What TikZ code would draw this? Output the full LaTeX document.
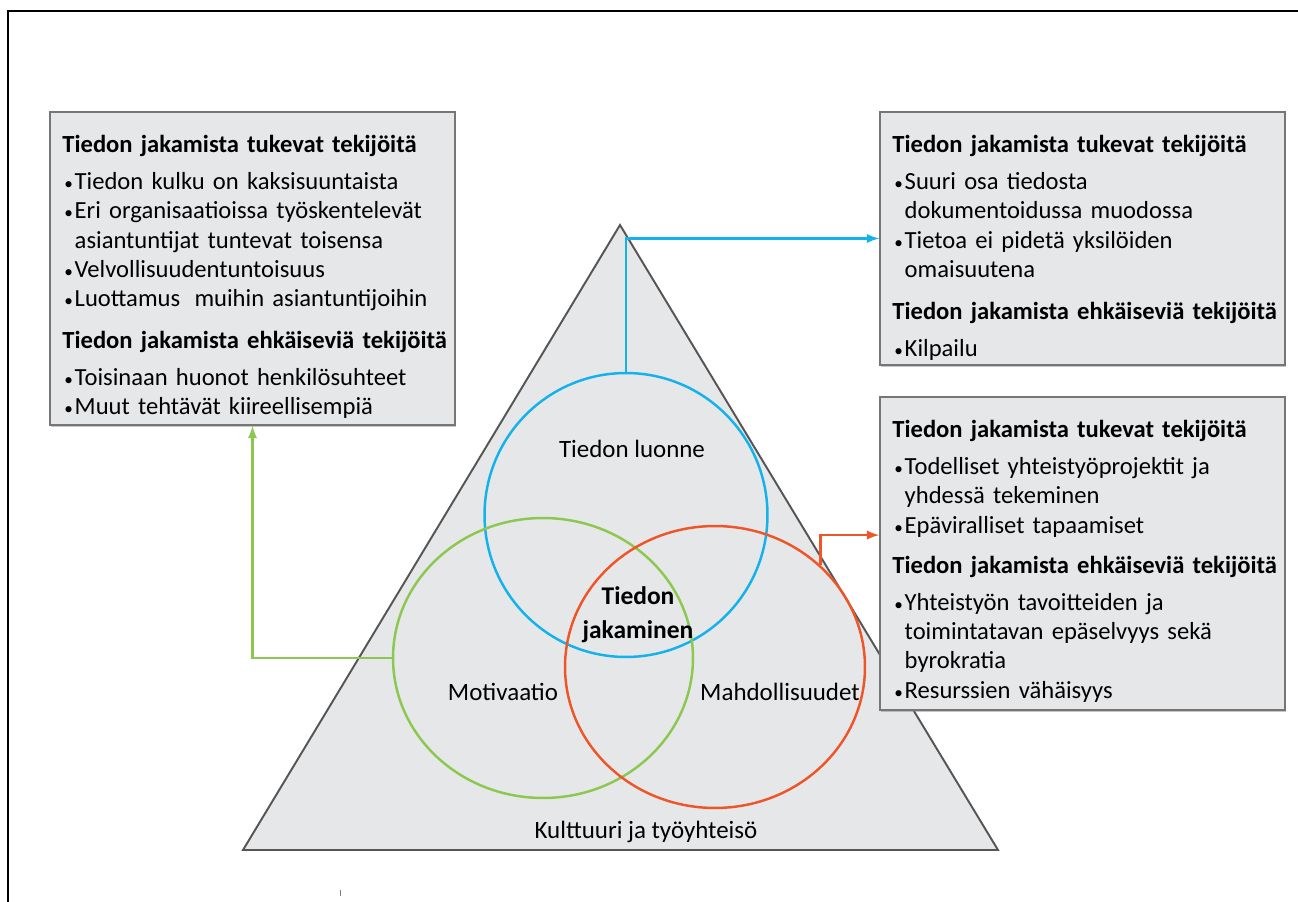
\documentclass[tikz,border=0pt]{standalone}
\usepackage{fontspec}
\setmainfont{Carlito}
\usetikzlibrary{calc,positioning,shapes.geometric,shadows}
\definecolor{boxgray}{RGB}{230,231,233}
\definecolor{boxline}{RGB}{118,118,118}
\definecolor{triline}{RGB}{85,85,85}
\definecolor{ringblue}{RGB}{20,178,235}
\definecolor{ringgreen}{RGB}{140,200,80}
\definecolor{ringred}{RGB}{238,86,42}
\tikzset{
  infobox/.style={rectangle, draw=boxline, line width=1.1pt, fill=boxgray,
                  minimum width=8.1cm, inner sep=0pt,
                  drop shadow={shadow xshift=0.5pt, shadow yshift=-1pt, opacity=0.45}},
  boxtext/.style={anchor=north west, inner sep=0pt, text width=7.8cm,
                  align=left, font=\fontsize{14}{16.7}\selectfont},
  ring/.style={ellipse, draw, line width=1.4pt, inner sep=0pt},
  link/.style={->, >=latex, line width=1.4pt},
  tag/.style={inner sep=0pt, font=\fontsize{14.2}{19.3}\selectfont}
}
\newcommand{\boxhead}[1]{\textbf{#1}\par\vspace{4.3pt}}
\newcommand{\boxitem}[1]{\hangindent=7pt\hangafter=1\noindent\makebox[7pt][c]{\scalebox{0.7}{\textbullet}}#1\par}

\begin{document}
\begin{tikzpicture}[x=0.02cm, y=-0.02cm]
\useasboundingbox (0,0) rectangle (1298,902);

% frame
\draw[line width=0.8pt] (8,902) -- (8,11) -- (1298,11);

% pyramid
\coordinate (apex)  at (620,225);
\coordinate (baseL) at (243,850);
\coordinate (baseR) at (998,850);
\draw[triline, line width=1.1pt, fill=boxgray] (apex) -- (baseR) -- (baseL) -- cycle;
\node[tag] (culture) at (646,832) {Kulttuuri ja työyhteisö};

% circles
\node[ring, draw=ringblue,  minimum width=5.66cm, minimum height=5.68cm] (nature) at (626,515) {};
\node[ring, draw=ringgreen, minimum width=6.0cm,  minimum height=5.6cm]  (motiv)  at (543,658) {};
\node[ring, draw=ringred,   minimum width=6.0cm,  minimum height=5.64cm] (chance) at (715,667) {};

\node[tag] at (632,449) {Tiedon luonne};
\node[tag] at (503,692) {Motivaatio};
\node[tag] at (780,692) {Mahdollisuudet};
\node[tag, align=center, font=\fontsize{14.5}{19.3}\selectfont\bfseries] at (638,615) {Tiedon\\jakaminen};

% boxes
\node[infobox, minimum height=6.26cm] (leftbox) at (252.5,268.5) {};
\node[infobox, minimum height=5.06cm] (topbox)  at (1082.5,238.5) {};
\node[infobox, minimum height=6.26cm] (lowbox)  at (1082.5,553.5) {};

\node[boxtext] at ($(leftbox.north west)+(13,24)$) {%
  \boxhead{Tiedon jakamista tukevat tekijöitä}
  \boxitem{Tiedon kulku on kaksisuuntaista}
  \boxitem{Eri organisaatioissa työskentelevät\newline asiantuntijat tuntevat toisensa}
  \boxitem{Velvollisuudentuntoisuus}
  \boxitem{Luottamus\hspace{0.25em} muihin asiantuntijoihin}
  \vspace{7pt}
  \boxhead{Tiedon jakamista ehkäiseviä tekijöitä}
  \boxitem{Toisinaan huonot henkilösuhteet}
  \boxitem{Muut tehtävät kiireellisempiä}};

\node[boxtext] at ($(topbox.north west)+(13,24)$) {%
  \boxhead{Tiedon jakamista tukevat tekijöitä}
  \boxitem{Suuri osa tiedosta\newline dokumentoidussa muodossa}
  \boxitem{Tietoa ei pidetä yksilöiden\newline omaisuutena}
  \vspace{7pt}
  \boxhead{Tiedon jakamista ehkäiseviä tekijöitä}
  \boxitem{Kilpailu}};

\node[boxtext] at ($(lowbox.north west)+(13,24)$) {%
  \boxhead{Tiedon jakamista tukevat tekijöitä}
  \boxitem{Todelliset yhteistyöprojektit ja\newline yhdessä tekeminen}
  \boxitem{Epäviralliset tapaamiset}
  \vspace{6pt}
  \boxhead{Tiedon jakamista ehkäiseviä tekijöitä}
  \boxitem{Yhteistyön tavoitteiden ja\newline toimintatavan epäselvyys sekä\newline byrokratia}
  \boxitem{Resurssien vähäisyys}};

% arrows
\coordinate (redend) at ($(lowbox.north west)+(0,139)$);
\draw[link, ringblue]  (nature.north) |- (topbox.west);
\draw[link, ringgreen] (motiv.west) -| (leftbox.south);
\draw[link, ringred]   (chance.44) |- (redend);

% stray mark
\fill[gray] (339.5,890) rectangle (341,896);

\end{tikzpicture}
\end{document}
